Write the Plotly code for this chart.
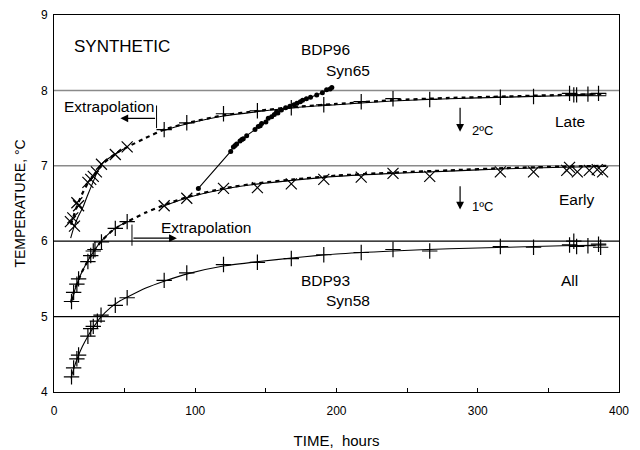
import plotly.graph_objects as go

# ---------------- data ----------------
# "All" series (BDP93 / Syn58) - plus markers
all_t = [12.4, 13.9, 16.2, 17.4, 24, 26, 27.8, 30.7, 33.3, 43.4, 51.8, 78, 94, 120, 144, 168, 191, 217.5, 240, 266, 316, 339.5, 365, 368, 370, 378, 385.5, 387]
all_T = [4.20, 4.32, 4.44, 4.49, 4.74, 4.84, 4.87, 4.94, 5.02, 5.15, 5.25, 5.48, 5.58, 5.69, 5.72, 5.77, 5.82, 5.85, 5.89, 5.87, 5.93, 5.92, 5.95, 6.00, 5.93, 5.94, 5.96, 5.92]
all_fit_t = [12, 14, 17, 20, 24, 28, 33, 40, 46, 52, 65, 78, 95, 120, 145, 170, 200, 240, 280, 320, 360, 391]
all_fit_T = [4.18, 4.31, 4.47, 4.60, 4.74, 4.86, 4.99, 5.12, 5.20, 5.26, 5.38, 5.47, 5.57, 5.67, 5.73, 5.78, 5.83, 5.87, 5.90, 5.92, 5.94, 5.95]

# "Early" series - plus markers before extrapolation, x markers after
early_p_t = [12.4, 13.9, 16.2, 17.4, 24, 26, 27.8, 29, 33.6, 43.4, 51.8]
early_p_T = [5.20, 5.32, 5.43, 5.50, 5.73, 5.81, 5.87, 5.89, 5.99, 6.17, 6.26]
early_x_t = [78, 94, 120, 144, 168, 191, 217.5, 240, 266, 316, 339.5, 363, 365, 370.5, 379, 384.6, 388.4]
early_x_T = [6.47, 6.57, 6.70, 6.71, 6.76, 6.82, 6.85, 6.90, 6.86, 6.92, 6.92, 6.94, 6.98, 6.92, 6.94, 6.95, 6.92]
early_fit1_t = [12, 14, 17, 20, 24, 28, 33, 40, 46, 52]
early_fit1_T = [5.18, 5.31, 5.47, 5.60, 5.74, 5.86, 5.99, 6.12, 6.20, 6.26]
early_fit2_t = [78, 95, 120, 145, 170, 200, 240, 280, 320, 360, 391]
early_fit2_T = [6.47, 6.58, 6.69, 6.76, 6.81, 6.86, 6.90, 6.93, 6.96, 6.98, 6.99]
early_dash_t = [12, 14, 17, 20, 24, 28, 33, 40, 46, 52, 65, 78, 95, 120, 145, 170, 200, 240, 280, 320, 360, 391]
early_dash_T = [5.19, 5.32, 5.47, 5.60, 5.74, 5.86, 5.99, 6.12, 6.20, 6.26, 6.38, 6.48, 6.59, 6.70, 6.77, 6.82, 6.87, 6.91, 6.94, 6.97, 6.99, 7.00]

# "Late" series - x markers before extrapolation, plus markers after
late_x_t = [11.6, 13.3, 14.5, 16.2, 17.4, 24, 26, 27.8, 30, 33.6, 43.4, 51.8]
late_x_T = [6.26, 6.31, 6.20, 6.51, 6.47, 6.78, 6.82, 6.86, 6.92, 7.02, 7.15, 7.25]
late_p_t = [78, 94, 120, 144, 168, 191, 217.5, 240, 266, 316, 339.5, 365, 368, 370, 378, 385.5]
late_p_T = [7.48, 7.57, 7.69, 7.73, 7.77, 7.81, 7.85, 7.89, 7.88, 7.91, 7.92, 7.96, 7.94, 7.94, 7.95, 7.96]
late_fit1_t = [11.8, 14, 17, 20.7, 24, 28, 32.6, 38, 43, 48, 52]
late_fit1_T = [6.04, 6.18, 6.32, 6.46, 6.62, 6.80, 7.00, 7.09, 7.15, 7.21, 7.25]
late_fit2_t = [78, 95, 120, 145, 170, 200, 240, 280, 320, 360, 391]
late_fit2_T = [7.47, 7.56, 7.66, 7.72, 7.77, 7.81, 7.86, 7.89, 7.91, 7.93, 7.93]
late_dash_t = [12, 14, 17, 20, 24, 28, 33, 40, 46, 52, 65, 78, 95, 120, 145, 170, 200, 240, 280, 320, 360, 391]
late_dash_T = [6.22, 6.34, 6.50, 6.63, 6.77, 6.87, 7.00, 7.11, 7.19, 7.25, 7.37, 7.48, 7.57, 7.67, 7.73, 7.78, 7.82, 7.87, 7.90, 7.92, 7.94, 7.95]

# BDP96 / Syn65 - dots
bdp96_t = [102.2, 125.1, 127, 128.2, 129.3, 131.7, 133, 134, 136.4, 142.3, 144.6, 146, 147, 150, 151.7, 154.1, 156, 157.6, 158.5, 161, 164, 167, 170, 172, 174.4, 176, 178.7, 181.6, 186, 190, 193, 195.5, 196.7]
bdp96_T = [6.70, 7.19, 7.25, 7.27, 7.29, 7.33, 7.35, 7.36, 7.40, 7.48, 7.52, 7.53, 7.56, 7.58, 7.63, 7.65, 7.68, 7.72, 7.70, 7.74, 7.77, 7.79, 7.81, 7.83, 7.85, 7.87, 7.89, 7.91, 7.94, 7.97, 8.01, 8.02, 8.04]

grid_levels = [5, 6, 7, 8]
grid_colors = ["black", "black", "#8a8a8a", "#8a8a8a"]

x_ticks = [0, 50, 100, 150, 200, 250, 300, 350, 400]
x_ticktext = ["0", "", "100", "", "200", "", "300", "", "400"]

FONT = "Liberation Sans, Arial, sans-serif"

fig = go.Figure()

def line(t, T, dash="solid", width=1.1):
    fig.add_trace(go.Scatter(x=t, y=T, mode="lines", line=dict(color="black", width=width, dash=dash, shape="spline", smoothing=0.6), showlegend=False, hoverinfo="skip"))

def marks(t, T, sym):
    fig.add_trace(go.Scatter(x=t, y=T, mode="markers", marker=dict(symbol=sym, size=11, color="black", line=dict(color="black", width=1.2)), showlegend=False))

# All
line(all_fit_t, all_fit_T)
marks(all_t, all_T, "cross-thin")
# Early
line(early_fit1_t, early_fit1_T)
line(early_fit2_t, early_fit2_T)
line(early_dash_t, early_dash_T, dash="4px,4px", width=2.2)
marks(early_p_t, early_p_T, "cross-thin")
marks(early_x_t, early_x_T, "x-thin")
# Late
line(late_fit1_t, late_fit1_T)
line(late_fit2_t, late_fit2_T)
line(late_dash_t, late_dash_T, dash="4px,4px", width=2.2)
marks(late_x_t, late_x_T, "x-thin")
marks(late_p_t, late_p_T, "cross-thin")
# BDP96
fig.add_trace(go.Scatter(x=bdp96_t, y=bdp96_T, mode="lines+markers", line=dict(color="black", width=1.1),
                         marker=dict(symbol="circle", size=5, color="black"), showlegend=False))

shapes = []
for lv, c in zip(grid_levels, grid_colors):
    shapes.append(dict(type="line", xref="paper", x0=0, x1=1, yref="y", y0=lv, y1=lv,
                       line=dict(color=c, width=1.5 if c != "black" else 1.2), layer="below"))
# extrapolation bars
shapes.append(dict(type="line", xref="x", yref="y", x0=72.6, x1=72.6, y0=7.50, y1=7.80, line=dict(color="black", width=1)))
shapes.append(dict(type="line", xref="x", yref="y", x0=55.2, x1=55.2, y0=5.94, y1=6.22, line=dict(color="black", width=1)))

ann = []
def text(x, y, s, size=15.5, xanchor="center"):
    ann.append(dict(x=x, y=y, xref="x", yref="y", text=s, showarrow=False, xanchor=xanchor,
                    font=dict(family=FONT, size=size, color="black")))

text(12.4, 8.58, "SYNTHETIC", size=17, xanchor="left")
text(192, 8.54, "BDP96")
text(208, 8.26, "Syn65")
text(6.0, 7.78, "Extrapolation", xanchor="left")
text(74, 6.18, "Extrapolation", xanchor="left")
text(365, 7.59, "Late")
text(370, 6.55, "Early")
text(365, 5.48, "All")
text(192, 5.48, "BDP93")
text(208, 5.21, "Syn58")
text(294.5, 7.47, "2ºC", size=13, xanchor="left")
text(294.5, 6.46, "1ºC", size=13, xanchor="left")

def arrow(x, y, ax, ay):
    ann.append(dict(x=x, y=y, ax=ax, ay=ay, xref="x", yref="y", axref="x", ayref="y", text="",
                    showarrow=True, arrowhead=2, arrowsize=1.3, arrowwidth=1.2, arrowcolor="black"))

arrow(47, 7.63, 72.6, 7.63)
arrow(87, 6.04, 55.2, 6.04)
arrow(287.5, 7.45, 287.5, 7.79)
arrow(287.5, 6.42, 287.5, 6.75)

fig.update_layout(
    width=640, height=450,
    margin=dict(l=46, r=29, t=7, b=66, autoexpand=False),
    paper_bgcolor="white", plot_bgcolor="white",
    font=dict(family=FONT, size=12, color="black"),
    shapes=shapes, annotations=ann,
    xaxis=dict(range=[0, 400], tickvals=x_ticks, ticktext=x_ticktext, ticks="inside", ticklen=4,
               tickcolor="black", showgrid=False, zeroline=False, showline=True, linecolor="black",
               linewidth=1, mirror=True, automargin=False, ticklabelstandoff=8,
               title=dict(text="TIME,  hours", font=dict(family=FONT, size=15), standoff=18),
               tickfont=dict(family=FONT, size=12)),
    yaxis=dict(range=[4, 9], tickvals=[4, 5, 6, 7, 8, 9], ticks="", showgrid=False, zeroline=False,
               showline=True, linecolor="black", linewidth=1, mirror=True, automargin=False,
               ticklabelstandoff=3,
               title=dict(text="TEMPERATURE, °C", font=dict(family=FONT, size=14), standoff=12),
               tickfont=dict(family=FONT, size=12)),
)

fig.write_html("out.html")
